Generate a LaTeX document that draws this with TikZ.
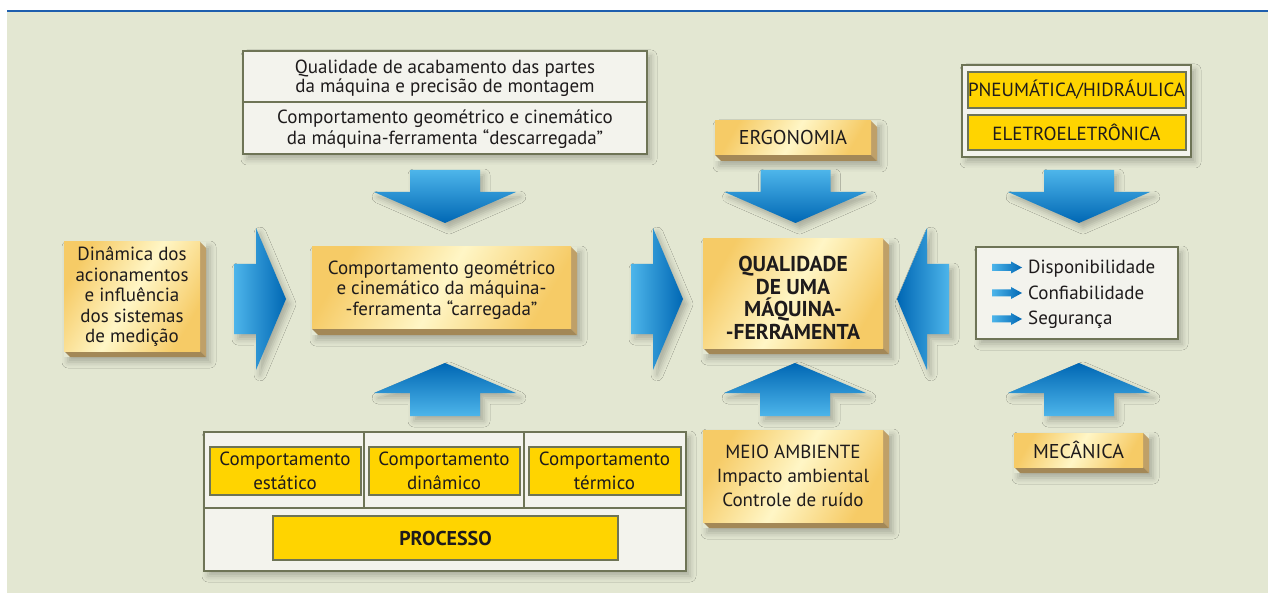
\documentclass[tikz,border=0pt]{standalone}
\usepackage{fontspec}
\setmainfont{PT Sans}
\usetikzlibrary{shadows.blur}
\definecolor{bg}{HTML}{E3E7D2}
\definecolor{topline}{HTML}{1F5FAE}
\definecolor{frame}{HTML}{6E7456}
\definecolor{paper}{HTML}{F3F3ED}
\definecolor{yel}{HTML}{FFD400}
\definecolor{goldA}{HTML}{F6CB66}
\definecolor{goldB}{HTML}{FFF6C6}
\definecolor{sideR}{HTML}{BFA068}
\definecolor{sideB}{HTML}{A38857}
\definecolor{bluL}{HTML}{4DB5EA}
\definecolor{bluD}{HTML}{0067B4}
\definecolor{ink}{HTML}{1E1B1C}
\tikzset{
  txt/.style={text=ink, align=center, font=\fontsize{19}{20.5}\selectfont, inner sep=0pt},
  boldtxt/.style={txt, font=\fontsize{21.5}{22.5}\selectfont\bfseries},
  paperbox/.style={draw=frame, line width=2.8pt, fill=paper},
  yelbox/.style={draw=frame, line width=2pt, fill=yel},
  goldface/.style={shading=axis, top color=goldA, bottom color=goldA, middle color=goldB, shading angle=60},
  softshadow/.style={blur shadow={shadow xshift=4pt, shadow yshift=-5pt, shadow blur radius=6pt, shadow opacity=25}},
  bluarrow/.style={softshadow},
}
\newcommand\goldblock[4]{%
  \fill[bg, softshadow] (#1,#2) rectangle (#3+6,#4+6);
  \fill[sideR] (#3,#2) -- (#3+6,#2+6) -- (#3+6,#4+6) -- (#3,#4) -- cycle;
  \fill[sideB] (#1,#4) -- (#3,#4) -- (#3+6,#4+6) -- (#1+6,#4+6) -- cycle;
  \path[goldface] (#1,#2) rectangle (#3,#4);
}
\newcommand\blockdown[2]{%
  \path[bluarrow, top color=bluL, bottom color=bluD] (#1-35,#2) -- (#1+35,#2) -- (#1+35,#2+22) -- (#1+71,#2+22) -- (#1,#2+53) -- (#1-71,#2+22) -- (#1-35,#2+22) -- cycle;}
\newcommand\blockup[2]{%
  \path[bluarrow, top color=bluD, bottom color=bluL] (#1,#2) -- (#1+71,#2+30) -- (#1+35,#2+30) -- (#1+35,#2+53) -- (#1-35,#2+53) -- (#1-35,#2+30) -- (#1-71,#2+30) -- cycle;}
\newcommand\blockright[2]{%
  \path[bluarrow, left color=bluL, right color=bluD] (#1,#2-35) -- (#1+22,#2-35) -- (#1+22,#2-71) -- (#1+52,#2) -- (#1+22,#2+71) -- (#1+22,#2+35) -- (#1,#2+35) -- cycle;}
\newcommand\blockleft[2]{%
  \path[bluarrow, left color=bluD, right color=bluL] (#1,#2-35) -- (#1-22,#2-35) -- (#1-22,#2-71) -- (#1-52,#2) -- (#1-22,#2+71) -- (#1-22,#2+35) -- (#1,#2+35) -- cycle;}
\newcommand\minarr[2]{%
  \path[left color=bluL, right color=bluD] (#1,#2-3.5) -- (#1+19,#2-3.5) -- (#1+19,#2-6) -- (#1+30,#2) -- (#1+19,#2+6) -- (#1+19,#2+3.5) -- (#1,#2+3.5) -- cycle;}

\begin{document}
\begin{tikzpicture}[x=1pt, y=-1pt]
\useasboundingbox (0,0) rectangle (1268,593);
\fill[white] (0,0) rectangle (1268,593);
\fill[bg] (7,12) rectangle (1268,593);
\fill[topline] (7,10) rectangle (1268,12.5);

% ---- top-left two-cell box
\path[paperbox, softshadow] (243,51) rectangle (647,154);
\draw[frame, line width=2.8pt] (243,102) -- (647,102);
\node[txt, font=\fontsize{19}{19}\selectfont] (acab) at (445,78) {Qualidade de acabamento das partes\\da máquina e precisão de montagem};
\node[txt, font=\fontsize{19}{21}\selectfont] (descar) at (445,129) {Comportamento geométrico e cinemático\\da máquina-ferramenta “descarregada”};

% ---- ERGONOMIA
\goldblock{715}{121}{871}{155}
\node[txt, font=\fontsize{20}{20}\selectfont] (ergo) at (793,138) {ERGONOMIA};

% ---- top-right box
\path[paperbox, softshadow] (962,65) rectangle (1191,157);
\path[yelbox] (967.5,72) rectangle (1185.5,108);
\path[yelbox] (967.5,115) rectangle (1185.5,150);
\node[txt] (pneu) at (1076.5,90) {PNEUMÁTICA/HIDRÁULICA};
\node[txt] (elet) at (1076.5,132.5) {ELETROELETRÔNICA};

% ---- down arrows
\blockdown{445}{170}
\blockdown{795.5}{170}
\blockdown{1079}{170}

% ---- Dinamica
\goldblock{64}{242}{200}{351}
\node[txt, font=\fontsize{19}{20.5}\selectfont] (dina) at (132,297) {Dinâmica dos\\acionamentos\\e influência\\dos sistemas\\de medição};

% ---- right arrows
\blockright{234}{299}
\blockright{631}{299}
\blockleft{949}{299}

% ---- center-left
\goldblock{312}{247}{571}{329}
\node[txt, font=\fontsize{19}{20.5}\selectfont] (carreg) at (441.5,290) {Comportamento geométrico\\e cinemático da máquina-\\-ferramenta “carregada”};

% ---- QUALIDADE
\goldblock{703}{239}{883}{348}
\node[boldtxt] (qual) at (793,298) {QUALIDADE\\DE UMA\\MÁQUINA-\\-FERRAMENTA};

% ---- list box
\path[paperbox, softshadow] (976,247) rectangle (1178,339);
\minarr{992}{267.5}
\minarr{992}{293}
\minarr{992}{319}
\node[txt, anchor=base west] (disp) at (1028,274) {Disponibilidade};
\node[txt, anchor=base west] (conf) at (1028,299.5) {Confiabilidade};
\node[txt, anchor=base west] (seg) at (1028,325) {Segurança};

% ---- up arrows
\blockup{445}{363}
\blockup{795}{363}
\blockup{1079}{363}

% ---- bottom composite
\path[paperbox, softshadow] (204,432) rectangle (686,571);
\draw[frame, line width=2.8pt] (204,508) -- (686,508) (364,432) -- (364,508) (524,432) -- (524,508);
\path[yelbox] (209.5,447) rectangle (360.5,495);
\path[yelbox] (368.5,447) rectangle (520,495);
\path[yelbox] (528.5,447) rectangle (681,495);
\path[yelbox] (273,515.5) rectangle (618,560);
\node[txt, font=\fontsize{19}{24}\selectfont] (est) at (285,471) {Comportamento\\estático};
\node[txt, font=\fontsize{19}{24}\selectfont] (din) at (444,471) {Comportamento\\dinâmico};
\node[txt, font=\fontsize{19}{24}\selectfont] (term) at (604.5,471) {Comportamento\\térmico};
\node[boldtxt, font=\fontsize{20}{20}\selectfont\bfseries] (proc) at (445.5,538) {PROCESSO};

% ---- MEIO AMBIENTE
\goldblock{703}{430}{883}{522}
\node[txt, font=\fontsize{19}{24}\selectfont] (meio) at (793,476) {MEIO AMBIENTE\\Impacto ambiental\\Controle de ruído};

% ---- MECANICA
\goldblock{1014}{433}{1143}{467}
\node[txt, font=\fontsize{20}{20}\selectfont] (meca) at (1078.5,450) {MECÂNICA};
\end{tikzpicture}
\end{document}
